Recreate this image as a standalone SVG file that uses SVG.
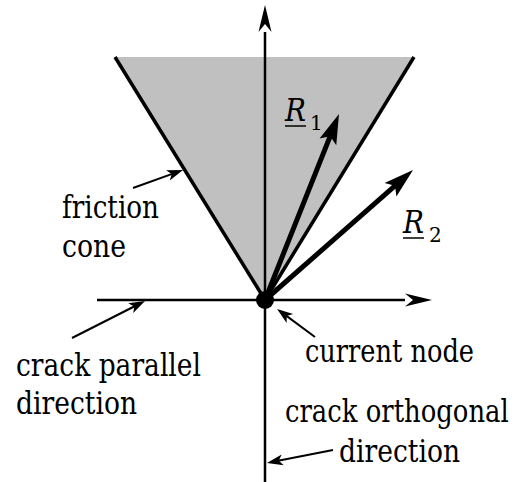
<svg xmlns="http://www.w3.org/2000/svg" width="518" height="482" viewBox="0 0 518 482">
<style>
text{font-family:'DejaVu Serif','Liberation Serif','Noto Serif',serif;font-size:31px;fill:#000}
.it{font-style:italic}
.sub{font-size:20px}
.thin{stroke:#000;stroke-width:2;fill:none;marker-end:url(#mThin)}
.axis{stroke:#000;stroke-width:2.5;fill:none}
.force{stroke:#000;stroke-width:5;fill:none;marker-end:url(#mForce)}
.edge{stroke:#000;stroke-width:3.5;fill:none}
.ul{stroke:#000;stroke-width:1.5}
</style>
<defs>
<marker id="mThin" markerUnits="userSpaceOnUse" orient="auto" refX="0" refY="0" markerWidth="40" markerHeight="40" viewBox="-20 -20 40 40" overflow="visible">
<path d="M10,0 L-6,-5.5 L-2,0 L-6,5.5 Z" fill="#000"/>
</marker>
<marker id="mForce" markerUnits="userSpaceOnUse" orient="auto" refX="0" refY="0" markerWidth="60" markerHeight="60" viewBox="-30 -30 60 60" overflow="visible">
<path d="M20,0 L-10,-9 L-4,0 L-10,9 Z" fill="#000"/>
</marker>
<marker id="mAxis" markerUnits="userSpaceOnUse" orient="auto" refX="0" refY="0" markerWidth="60" markerHeight="60" viewBox="-30 -30 60 60" overflow="visible">
<path d="M27,0 L0,-6.5 L8,0 L0,6.5 Z" fill="#000"/>
</marker>
</defs>
<rect width="518" height="482" fill="#fff"/>
<g id="friction-cone">
<polygon points="265,300 115,57 414,57" fill="#c0c0c0"/>
<line class="edge" x1="265" y1="300" x2="115" y2="57"/>
<line class="edge" x1="265" y1="300" x2="414" y2="57"/>
</g>
<g id="axes">
<line class="axis" x1="265" y1="482" x2="265" y2="32" marker-end="url(#mAxis)"/>
<line class="axis" x1="97" y1="300" x2="405" y2="300" marker-end="url(#mAxis)"/>
</g>
<g id="connectors">
<line class="force" x1="265" y1="300" x2="331.6" y2="132.6"/>
<line class="force" x1="265" y1="300" x2="398" y2="183.2"/>
<line class="thin" x1="133" y1="188" x2="173.6" y2="173.4"/>
<line class="thin" x1="72" y1="338" x2="136.1" y2="305.5"/>
<line class="thin" x1="315" y1="337" x2="285.1" y2="314.9"/>
<line class="thin" x1="333" y1="450" x2="276.8" y2="461.1"/>
</g>
<g id="current-node">
<circle cx="265" cy="300" r="9" fill="#000"/>
</g>
<g id="label-R1">
<text class="it" x="285" y="121" textLength="21" lengthAdjust="spacingAndGlyphs">R</text>
<line class="ul" x1="285" y1="126" x2="306" y2="126"/>
<text class="sub" x="310" y="130">1</text>
</g>
<g id="label-R2">
<text class="it" x="403" y="233" textLength="21" lengthAdjust="spacingAndGlyphs">R</text>
<line class="ul" x1="403" y1="238" x2="424" y2="238"/>
<text class="sub" x="429" y="242">2</text>
</g>
<g id="label-friction-cone">
<text x="62" y="218" textLength="97" lengthAdjust="spacingAndGlyphs">friction</text>
<text x="62" y="257" textLength="64" lengthAdjust="spacingAndGlyphs">cone</text>
</g>
<g id="label-crack-parallel">
<text x="16" y="376" textLength="185" lengthAdjust="spacingAndGlyphs">crack parallel</text>
<text x="16" y="414" textLength="121" lengthAdjust="spacingAndGlyphs">direction</text>
</g>
<g id="label-current-node">
<text x="305" y="362" textLength="169" lengthAdjust="spacingAndGlyphs">current node</text>
</g>
<g id="label-crack-orthogonal">
<text transform="translate(285,422) scale(0.835,1)" x="0" y="0">crack orthogonal</text>
<text x="339" y="462" textLength="121" lengthAdjust="spacingAndGlyphs">direction</text>
</g>
</svg>
